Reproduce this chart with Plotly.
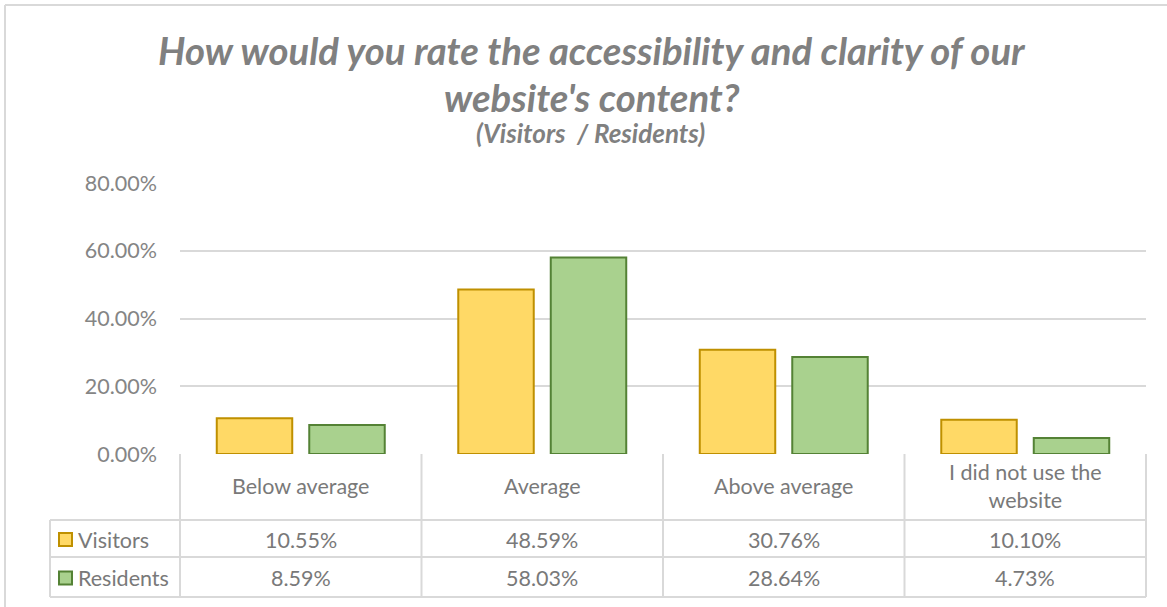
import plotly.graph_objects as go

# Survey results (percent of respondents)
categories = ["Below average", "Average", "Above average", "I did not use the<br>website"]
series_names = ["Visitors", "Residents"]
visitors = [10.55, 48.59, 30.76, 10.10]
residents = [8.59, 58.03, 28.64, 4.73]
y_ticks = [0, 20, 40, 60, 80]

W, H = 1167, 607
FONT = "Lato"
TEXT = "#797979"
TITLE = "#808080"
GRID = "#d9d9d9"
FILLS = ["#FFD966", "#A9D18E"]
EDGES = ["#BF9000", "#548235"]

# Pixel layout of the plot area and the data table beneath it
X0, X1 = 180, 1146
Y_TOP, Y_ZERO = 183, 454
ROW_HDR_BOTTOM, ROW1_BOTTOM, ROW2_BOTTOM = 520, 557, 597
LEGEND_LEFT = 50


def px(x):
    return x / W


def py(y):
    return 1 - y / H


fig = go.Figure()
for name, vals, fill, edge in zip(series_names, [visitors, residents], FILLS, EDGES):
    fig.add_trace(go.Bar(
        x=list(range(len(categories))), y=vals, name=name,
        marker=dict(color=fill, line=dict(color=edge, width=2)),
        showlegend=False, hoverinfo="y",
    ))

shapes = []
annotations = []


def hline(y, xa, xb):
    shapes.append(dict(type="line", xref="paper", yref="paper",
                       x0=px(xa), x1=px(xb), y0=py(y), y1=py(y),
                       line=dict(color=GRID, width=2)))


def vline(x, ya, yb):
    shapes.append(dict(type="line", xref="paper", yref="paper",
                       x0=px(x), x1=px(x), y0=py(ya), y1=py(yb),
                       line=dict(color=GRID, width=2)))


def label(text, x, y, size, color=TEXT, anchor="center"):
    annotations.append(dict(text=text, x=px(x), y=py(y), xref="paper", yref="paper",
                            showarrow=False, xanchor=anchor, yanchor="middle",
                            font=dict(family=FONT, size=size, color=color)))


# Chart frame (top and left edges)
hline(5, 5, W)
vline(5, 5, H)

# Data table grid
ncat = len(categories)
col_w = (X1 - X0) / ncat
col_edges = [X0 + i * col_w for i in range(ncat + 1)]
for x in col_edges:
    vline(x, Y_ZERO, ROW2_BOTTOM)
vline(LEGEND_LEFT, ROW_HDR_BOTTOM, ROW2_BOTTOM)
for y in (ROW_HDR_BOTTOM, ROW1_BOTTOM, ROW2_BOTTOM):
    hline(y, LEGEND_LEFT, X1)

row_centers = [(Y_ZERO + ROW_HDR_BOTTOM) / 2 - 1, (ROW_HDR_BOTTOM + ROW1_BOTTOM) / 2 + 1,
               (ROW1_BOTTOM + ROW2_BOTTOM) / 2 + 1]

TABLE_SIZE = 21.5
for i, cat in enumerate(categories):
    cx = (col_edges[i] + col_edges[i + 1]) / 2
    label(cat, cx, row_centers[0], TABLE_SIZE)
    for r, vals in enumerate([visitors, residents]):
        label(f"{vals[i]:.2f}%", cx, row_centers[r + 1], TABLE_SIZE)

# Legend keys inside the table
for r, (name, fill, edge) in enumerate(zip(series_names, FILLS, EDGES)):
    cy = row_centers[r + 1]
    shapes.append(dict(type="rect", xref="paper", yref="paper",
                       x0=px(59), x1=px(72), y0=py(cy - 6.5), y1=py(cy + 6.5),
                       fillcolor=fill, line=dict(color=edge, width=2)))
    label(name, 76, cy, TABLE_SIZE, anchor="left")

# Title block
label("<b><i>How would you rate the accessibility and clarity of our</i></b>", 592, 50, 38.3, TITLE)
label("<b><i>website's content?</i></b>", 592, 97, 38.3, TITLE)
label("<b><i>(Visitors  / Residents)</i></b>", 590, 133, 26, TITLE)

fig.update_layout(
    width=W, height=H, autosize=False,
    margin=dict(l=0, r=0, t=0, b=0, pad=0),
    paper_bgcolor="white", plot_bgcolor="white",
    showlegend=False,
    barmode="group", bargap=0.234, bargroupgap=0.184,
    shapes=shapes, annotations=annotations,
    xaxis=dict(domain=[px(X0), px(X1)], range=[-0.5, ncat - 0.5], automargin=False,
               showticklabels=False, showgrid=False, zeroline=False, fixedrange=True),
    yaxis=dict(domain=[py(Y_ZERO), py(Y_TOP)], range=[0, 80], automargin=False,
               tickvals=y_ticks, ticktext=[f"{v:.2f}%" for v in y_ticks],
               showgrid=True, gridcolor=GRID, gridwidth=2,
               zeroline=False, ticks="", ticklabelstandoff=22,
               tickfont=dict(family=FONT, size=21.5, color="#858585"), fixedrange=True),
)

fig.write_html("out.html", config={"responsive": False, "displayModeBar": False})
